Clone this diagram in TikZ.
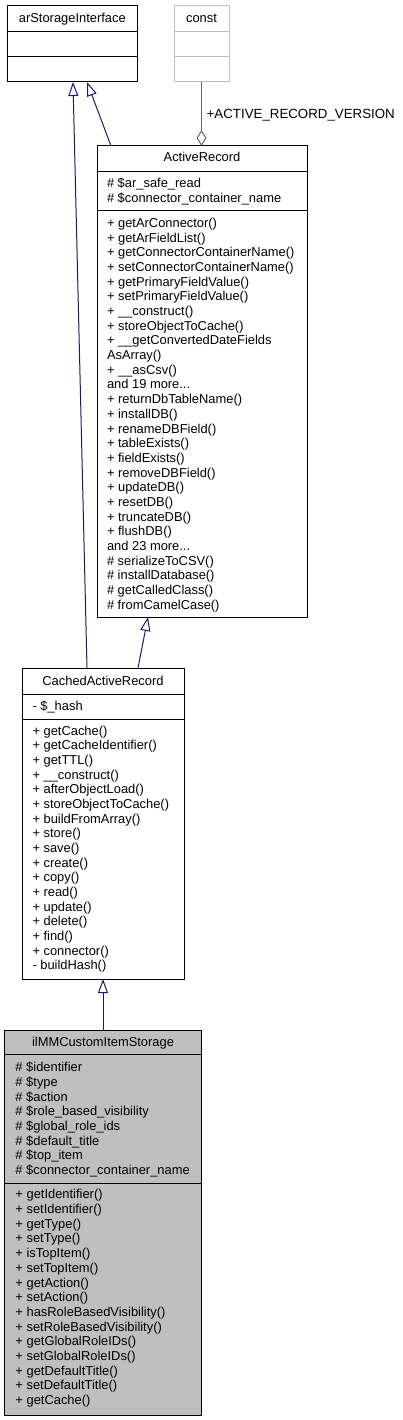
\documentclass[tikz,border=0pt]{standalone}
\usepackage{fontspec}
\setmainfont{Liberation Sans}
\usetikzlibrary{arrows.meta,calc}
\definecolor{navy}{HTML}{191970}
\definecolor{lgray}{HTML}{BFBFBF}
\definecolor{egray}{HTML}{666666}
\newcommand\mytdots{...}
\tikzset{
  cls/.style={draw=black,line width=1pt,anchor=north west,inner sep=0pt,outer sep=0pt},
  divider/.style={line width=1pt},
  txt/.style={anchor=base west,inner sep=0pt,outer sep=0pt,font=\fontsize{12.9}{14.7}\selectfont},
  ttl/.style={anchor=base,inner sep=0pt,outer sep=0pt,font=\fontsize{12.9}{14.7}\selectfont},
  elabel/.style={anchor=base west,inner sep=0pt,outer sep=0pt,font=\fontsize{13.3}{15}\selectfont},
  inh/.style={draw=navy,line width=1pt,-{Triangle[length=14pt,width=10pt,fill=white,line width=1pt]}},
  aggr/.style={draw=egray,line width=1.2pt,-{Diamond[length=16pt,width=10pt,fill=white,line width=1pt]}}
}
\begin{document}
\begin{tikzpicture}[x=1pt,y=-1pt]
\useasboundingbox (0,0) rectangle (403,1420);

% ---- arStorageInterface
\node[cls,minimum width=129.5pt,minimum height=76.5pt] (asi) at (7.5,5.5) {};
\draw[divider] (7.5,31.5) -- (137,31.5);
\draw[divider] (7.5,57) -- (137,57);
\node[ttl] (asi-t) at (72.3,22.3) {arStorageInterface};

% ---- const
\node[cls,draw=lgray,minimum width=55pt,minimum height=76.5pt] (cst) at (174,5.5) {};
\draw[divider,lgray] (174,31.5) -- (229,31.5);
\draw[divider,lgray] (174,57) -- (229,57);
\node[ttl] (cst-t) at (201.5,22.3) {const};

% ---- ActiveRecord
\node[cls,minimum width=210pt,minimum height=471pt] (ar) at (97,146) {};
\draw[divider] (97,172) -- (307,172);
\draw[divider] (97,211) -- (307,211);
\node[ttl] (ar-t) at (202,162) {ActiveRecord};
\foreach \t [count=\i from 0] in {{\# \$ar\_safe\_read},{\# \$connector\_container\_name}}
  \node[txt] (ar-a\i) at (107,{187.6+14.7*\i}) {\t};
\foreach \t [count=\i from 0] in {
  {+ getArConnector()},{+ getArFieldList()},{+ getConnectorContainerName()},
  {+ setConnectorContainerName()},{+ getPrimaryFieldValue()},{+ setPrimaryFieldValue()},
  {+ \_\_construct()},{+ storeObjectToCache()},{+ \_\_getConvertedDateFields},
  {AsArray()},{+ \_\_asCsv()},{and 19 more\mytdots},{+ returnDbTableName()},
  {+ installDB()},{+ renameDBField()},{+ tableExists()},{+ fieldExists()},
  {+ removeDBField()},{+ updateDB()},{+ resetDB()},{+ truncateDB()},{+ flushDB()},
  {and 23 more\mytdots},{\# serializeToCSV()},{\# installDatabase()},{\# getCalledClass()},
  {\# fromCamelCase()}}
  \node[txt] (ar-m\i) at (107,{227.5+14.68*\i}) {\t};

% ---- CachedActiveRecord
\node[cls,minimum width=162pt,minimum height=311pt] (car) at (22,668) {};
\draw[divider] (22,694) -- (184,694);
\draw[divider] (22,719) -- (184,719);
\node[ttl] (car-t) at (103,685.3) {CachedActiveRecord};
\node[txt] (car-a0) at (32.5,710.6) {- \$\_hash};
\foreach \t [count=\i from 0] in {
  {+ getCache()},{+ getCacheIdentifier()},{+ getTTL()},{+ \_\_construct()},
  {+ afterObjectLoad()},{+ storeObjectToCache()},{+ buildFromArray()},{+ store()},
  {+ save()},{+ create()},{+ copy()},{+ read()},{+ update()},{+ delete()},
  {+ find()},{+ connector()},{- buildHash()}}
  \node[txt] (car-m\i) at (32.5,{735.3+14.65*\i}) {\t};

% ---- ilMMCustomItemStorage
\node[cls,fill=lgray,minimum width=196.3pt,minimum height=385pt] (ilmm) at (4.7,1030) {};
\draw[divider] (4.7,1054) -- (201,1054);
\draw[divider] (4.7,1183) -- (201,1183);
\node[ttl] (ilmm-t) at (103,1046.6) {ilMMCustomItemStorage};
\foreach \t [count=\i from 0] in {
  {\# \$identifier},{\# \$type},{\# \$action},{\# \$role\_based\_visibility},
  {\# \$global\_role\_ids},{\# \$default\_title},{\# \$top\_item},
  {\# \$connector\_container\_name}}
  \node[txt] (ilmm-a\i) at (15.5,{1071.6+14.71*\i}) {\t};
\foreach \t [count=\i from 0] in {
  {+ getIdentifier()},{+ setIdentifier()},{+ getType()},{+ setType()},
  {+ isTopItem()},{+ setTopItem()},{+ getAction()},{+ setAction()},
  {+ hasRoleBasedVisibility()},{+ setRoleBasedVisibility()},{+ getGlobalRoleIDs()},
  {+ setGlobalRoleIDs()},{+ getDefaultTitle()},{+ setDefaultTitle()},{+ getCache()}}
  \node[txt] (ilmm-m\i) at (15.5,{1198.9+14.69*\i}) {\t};

% ---- connector end points on the borders
\coordinate (e1a) at ([xshift=65pt]car.north west);
\coordinate (e1b) at ([xshift=65.5pt]asi.south west);
\coordinate (e2a) at ([xshift=14pt]ar.north west);
\coordinate (e2b) at ([xshift=79.5pt]asi.south west);
\coordinate (e3a) at (cst.south);
\coordinate (e3b) at (cst.south |- ar.north);
\coordinate (e4a) at ([xshift=116pt]car.north west);
\coordinate (e4b) at ([xshift=51pt]ar.south west);
\coordinate (e5a) at ([xshift=98.3pt]ilmm.north west);
\coordinate (e5b) at (e5a |- car.south);

% ---- connectors
\draw[inh] (e1a) -- (e1b);
\draw[inh] (e2a) -- (e2b);
\draw[aggr] (e3a) -- (e3b);
\node[elabel] (lbl) at (206.7,118.3) {+ACTIVE\_RECORD\_VERSION};
\draw[inh] (e4a) -- (e4b);
\draw[inh] (e5a) -- (e5b);
\end{tikzpicture}
\end{document}
